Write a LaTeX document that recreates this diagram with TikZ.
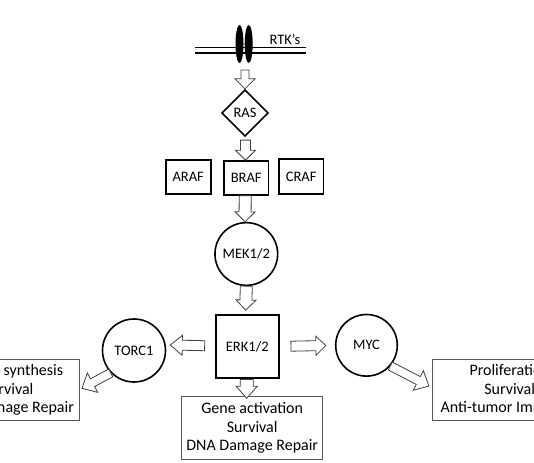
\documentclass[tikz,border=0pt]{standalone}
\usepackage{fontspec}
\setmainfont{Carlito}
\usetikzlibrary{calc,shapes.geometric}
\tikzset{
  lbl/.style={font=\fontsize{14.5}{17}\selectfont, inner sep=0pt},
  nodebox/.style={lbl, draw=black, line width=1.6pt, rectangle},
  nodecirc/.style={lbl, draw=black, line width=1.6pt, circle},
  textbox/.style={draw=black!65, line width=0.8pt, fill=white, align=center, inner sep=0pt,
    font=\fontsize{16}{18.3}\selectfont},
  hollowarrow/.style={draw=black!75, line width=0.8pt, fill=white, line join=miter},
  memline/.style={draw=black, line width=1.5pt},
}
\newcommand\blockarr[5]{%
  \coordinate (ba-s) at (#1);
  \coordinate (ba-e) at (#2);
  \coordinate (ba-h) at ($(ba-e)!#5!(ba-s)$);
  \draw[hollowarrow] ($(ba-s)!#3!90:(ba-e)$) -- ($(ba-h)!#3!90:(ba-e)$)
    -- ($(ba-h)!#4!90:(ba-e)$) -- (ba-e) -- ($(ba-h)!#4!-90:(ba-e)$)
    -- ($(ba-h)!#3!-90:(ba-e)$) -- ($(ba-s)!#3!-90:(ba-e)$) -- cycle;
}
\begin{document}
\begin{tikzpicture}[x=1pt,y=-1pt]
\useasboundingbox (0,0) rectangle (534,462);
\clip (0,0) rectangle (534,462);

% membrane
\coordinate (m1l) at (195,47.5); \coordinate (m1r) at (306,47.5);
\coordinate (m2l) at (195,53);   \coordinate (m2r) at (306,53);
\draw[memline] (m1l) -- (m1r);
\draw[memline] (m2l) -- (m2r);
\node (rtk1) [ellipse, fill=black, minimum width=8pt, minimum height=38pt, inner sep=0pt] at (239.5,44) {};
\node (rtk2) [ellipse, fill=black, minimum width=8pt, minimum height=38pt, inner sep=0pt] at (248.7,44) {};
\node (rtklabel) [lbl] at (285,39) {RTK’s};
\coordinate (rtkout) at (245,70);

% nodes
\node (ras) [lbl, draw=black, line width=1.6pt, diamond, aspect=1, minimum width=46.7pt, minimum height=46.7pt] at (245,113) {RAS};
\node (araf) [nodebox, minimum width=45pt, minimum height=34pt] at (188.2,177) {ARAF};
\node (braf) [nodebox, minimum width=44.3pt, minimum height=34pt] at (246.2,178) {BRAF};
\node (craf) [nodebox, minimum width=44.3pt, minimum height=35pt] at (301.2,176.5) {CRAF};
\node (mek) [nodecirc, minimum size=62.7pt] at (246.3,254) {MEK1/2};
\node (erk) [nodebox, line width=2pt, minimum width=63.3pt, minimum height=63.3pt] at (247.3,346.7) {ERK1/2};
\node (torc) [nodecirc, minimum size=63pt] at (134,350.5) {TORC1};
\node (myc) [nodecirc, minimum size=61.6pt] at (366.5,345.3) {MYC};

\node (pbox) [textbox, minimum width=142.3pt, minimum height=61.4pt] at (8,390)
  {Protein synthesis\\Survival\\DNA Damage Repair};
\node (gbox) [textbox, minimum width=141pt, minimum height=62.6pt] at (252.2,428)
  {Gene activation\\Survival\\DNA Damage Repair};
\node (rbox) [textbox, minimum width=154.7pt, minimum height=61.4pt] at (509.7,390)
  {Proliferation\\Survival\\Anti-tumor Immunity};

% arrows
\blockarr{rtkout}{ras.north}{4pt}{10pt}{10pt}
\blockarr{$(ras.south)+(0.5,3)$}{$(braf.north)+(-0.7,0)$}{5pt}{10pt}{10pt}
\blockarr{$(braf.south)+(-1,0)$}{$(mek.north)+(-1.3,0)$}{6pt}{10pt}{10pt}
\blockarr{mek.south}{$(erk.north)+(-1.6,-4)$}{6pt}{10pt}{10pt}
\blockarr{$(erk.south)+(-0.6,0)$}{$(gbox.north)+(-5.5,2)$}{6.5pt}{10.5pt}{12pt}
\blockarr{$(erk.west)+(-10,-1)$}{$(torc.east)+(4,-5.5)$}{5pt}{10pt}{12pt}
\blockarr{$(erk.east)+(11,-0.5)$}{$(myc.west)+(-9,0.2)$}{5pt}{9.5pt}{10pt}
\blockarr{torc.224}{$(pbox.east)+(2.4,-1.7)$}{4.4pt}{11pt}{12pt}
\blockarr{myc.-41}{$(rbox.west)+(-3,-4)$}{4.4pt}{11pt}{12pt}
\end{tikzpicture}
\end{document}
